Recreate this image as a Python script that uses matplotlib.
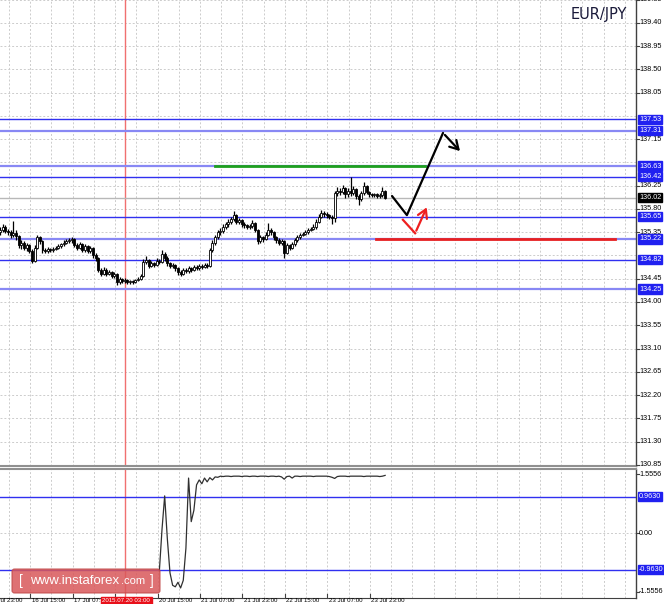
import matplotlib
matplotlib.use("Agg")
import matplotlib.pyplot as plt
import matplotlib.transforms as mtransforms
from matplotlib.patches import FancyBboxPatch
import numpy as np

plt.rcParams["font.family"] = ["Liberation Sans", "DejaVu Sans"]

# ---------------- data ----------------
opens = [135.35,135.40,135.45,135.38,135.36,135.30,135.33,135.28,135.10,135.15,
         135.05,135.10,134.98,134.80,135.05,135.25,135.18,135.00,134.98,135.02,
         135.00,135.03,135.05,135.08,135.12,135.15,135.18,135.20,135.22,135.10,
         135.05,135.12,135.00,135.08,134.98,135.05,134.90,134.85,134.62,134.55,
         134.62,134.55,134.58,134.50,134.55,134.38,134.45,134.40,134.42,134.38,
         134.40,134.38,134.42,134.45,134.50,134.78,134.82,134.70,134.75,134.72,
         134.80,134.78,134.92,134.85,134.75,134.70,134.72,134.65,134.58,134.55,
         134.62,134.60,134.65,134.62,134.68,134.65,134.70,134.68,134.72,134.70,
         135.00,135.15,135.25,135.35,135.38,135.45,135.50,135.55,135.60,135.68,
         135.55,135.58,135.50,135.48,135.45,135.47,135.52,135.40,135.18,135.25,
         135.22,135.30,135.40,135.35,135.25,135.20,135.15,135.18,134.95,135.10,
         135.05,135.12,135.20,135.25,135.30,135.32,135.35,135.40,135.42,135.45,
         135.55,135.65,135.72,135.70,135.68,135.65,135.62,136.10,136.15,136.12,
         136.20,136.08,136.15,136.10,136.18,136.05,136.00,136.10,136.25,136.12,
         136.08,136.06,136.08,136.05,136.07,136.15]
closes = [135.40,135.45,135.38,135.36,135.30,135.33,135.28,135.10,135.15,135.05,
          135.10,134.98,134.80,135.05,135.25,135.18,135.00,134.98,135.02,135.00,
          135.03,135.05,135.08,135.12,135.15,135.18,135.20,135.22,135.10,135.05,
          135.12,135.00,135.08,134.98,135.05,134.90,134.85,134.62,134.55,134.62,
          134.55,134.58,134.50,134.55,134.38,134.45,134.40,134.42,134.38,134.40,
          134.38,134.42,134.45,134.50,134.78,134.82,134.70,134.75,134.72,134.80,
          134.78,134.92,134.85,134.75,134.70,134.72,134.65,134.58,134.55,134.62,
          134.60,134.65,134.62,134.68,134.65,134.70,134.68,134.72,134.70,135.00,
          135.15,135.25,135.35,135.38,135.45,135.50,135.55,135.60,135.68,135.55,
          135.58,135.50,135.48,135.45,135.47,135.52,135.40,135.18,135.25,135.22,
          135.30,135.40,135.35,135.25,135.20,135.15,135.18,134.95,135.10,135.05,
          135.12,135.20,135.25,135.30,135.32,135.35,135.40,135.42,135.45,135.55,
          135.65,135.72,135.70,135.68,135.65,135.62,136.10,136.15,136.12,136.20,
          136.08,136.15,136.10,136.18,136.05,136.00,136.10,136.25,136.12,136.08,
          136.06,136.08,136.05,136.07,136.15,136.02]
highs = [135.45,135.50,135.48,135.42,135.40,135.56,135.40,135.30,135.20,135.18,
         135.14,135.12,135.02,135.10,135.30,135.28,135.20,135.05,135.06,135.05,
         135.07,135.09,135.12,135.15,135.19,135.22,135.24,135.26,135.24,135.14,
         135.16,135.14,135.12,135.10,135.09,135.07,134.94,134.87,134.66,134.67,
         134.65,134.62,134.60,134.58,134.57,134.48,134.47,134.46,134.44,134.43,
         134.42,134.45,134.49,134.55,134.84,134.88,134.84,134.80,134.78,134.85,
         134.84,135.00,134.96,134.88,134.78,134.76,134.74,134.67,134.62,134.66,
         134.65,134.69,134.68,134.72,134.71,134.74,134.73,134.76,134.75,135.05,
         135.20,135.30,135.40,135.44,135.50,135.55,135.60,135.65,135.76,135.70,
         135.62,135.60,135.54,135.51,135.51,135.58,135.54,135.42,135.30,135.28,
         135.35,135.52,135.43,135.37,135.28,135.23,135.22,135.20,135.14,135.13,
         135.16,135.24,135.29,135.34,135.36,135.39,135.44,135.46,135.50,135.60,
         135.70,135.78,135.76,135.74,135.71,135.68,136.15,136.22,136.20,136.26,
         136.23,136.20,136.42,136.24,136.21,136.08,136.15,136.32,136.27,136.15,
         136.11,136.11,136.10,136.10,136.22,136.17]
lows = [135.30,135.36,135.34,135.30,135.24,135.26,135.20,135.05,135.02,135.00,
        134.98,134.94,134.75,134.78,135.02,135.12,134.95,134.94,134.95,134.96,
        134.97,135.00,135.02,135.05,135.09,135.12,135.14,135.15,135.06,135.00,
        135.02,134.96,134.97,134.94,134.95,134.86,134.80,134.58,134.50,134.52,
        134.51,134.52,134.46,134.47,134.33,134.34,134.36,134.36,134.34,134.35,
        134.34,134.36,134.40,134.43,134.48,134.74,134.66,134.67,134.68,134.70,
        134.74,134.76,134.80,134.70,134.65,134.66,134.60,134.52,134.50,134.53,
        134.56,134.57,134.58,134.60,134.61,134.62,134.64,134.65,134.66,134.68,
        134.97,135.10,135.22,135.30,135.34,135.41,135.46,135.51,135.56,135.50,
        135.51,135.46,135.44,135.41,135.42,135.44,135.35,135.12,135.14,135.17,
        135.19,135.27,135.30,135.20,135.15,135.10,135.10,134.85,134.92,135.00,
        135.02,135.09,135.17,135.22,135.27,135.29,135.32,135.37,135.39,135.42,
        135.52,135.62,135.65,135.63,135.60,135.50,135.55,136.05,136.06,136.08,
        136.02,136.04,136.05,136.06,136.00,135.88,135.96,136.06,136.08,136.04,
        136.03,136.03,136.02,136.02,136.04,135.99]

osc_start = 60
osc_values = [-1.00,0.10,0.98,-0.15,-1.05,-1.38,-1.42,-1.30,-1.45,-1.25,
              -0.40,1.45,0.30,0.60,1.27,1.40,1.30,1.45,1.35,1.46,
              1.40,1.48,1.47,1.50,1.49,1.50,1.50,1.49,1.50,1.50,
              1.50,1.49,1.50,1.50,1.49,1.50,1.50,1.49,1.50,1.50,
              1.50,1.49,1.50,1.50,1.49,1.50,1.48,1.42,1.49,1.50,
              1.45,1.50,1.50,1.49,1.50,1.50,1.50,1.50,1.49,1.50,
              1.50,1.50,1.50,1.50,1.49,1.47,1.44,1.49,1.50,1.50,
              1.50,1.49,1.50,1.50,1.50,1.50,1.50,1.49,1.50,1.50,
              1.50,1.50,1.50,1.49,1.50,1.52]

dark_levels = [137.53, 136.42, 135.65, 134.82]
light_levels = [137.31, 136.63, 135.22, 134.25]
current_price = 136.02
osc_levels = [0.9630, -0.9630]
osc_ticks = [1.5556, 0.00, -1.5556]

green_level = 136.63
green_span = [81, 160]
red_level = 135.22
red_span = [141.6, 231.5]

black_path_x = [147.6, 153.2, 166.8, 173.9]
black_path_y = [136.05, 135.68, 137.27, 136.88]
red_path_x = [151.7, 156.3, 161.1]
red_path_y = [135.59, 135.33, 135.88]

red_vline_bar = 47.1

time_labels = ["15 Jul 23:00", "16 Jul 15:00", "17 Jul 07:00",
               "20 Jul 15:00", "21 Jul 07:00", "21 Jul 23:00", "22 Jul 15:00",
               "23 Jul 07:00", "23 Jul 23:00"]
time_label_bars = [-4.7, 11.3, 27.3, 59.3, 75.3, 91.3, 107.3, 123.3, 139.3]
hidden_tick_bar = 43.3
highlight_label = "2015.07.20 03:00"

price_ticks = [round(130.85 + 0.45 * k, 2) for k in range(21)]

# ---------------- layout ----------------
W, H = 664, 604
PXB = 2.656
fig = plt.figure(figsize=(W / 100, H / 100), dpi=100)
fig.patch.set_facecolor("white")

right_px = 636
ax = fig.add_axes([0, (H - 466) / H, right_px / W, 466 / H])
ax2 = fig.add_axes([0, (H - 598) / H, right_px / W, (598 - 469) / H])

xmax = right_px / PXB
ax.set_xlim(0, xmax)
ax.set_ylim(130.828, 139.841)
ax2.set_xlim(0, xmax)
ax2.set_ylim(-1.715, 1.689)

for a in (ax, ax2):
    a.set_xticks([])
    a.set_yticks([])
    a.spines["left"].set_visible(False)
    a.spines["top"].set_visible(False)
    a.spines["right"].set_color("#404040")
    a.spines["right"].set_linewidth(1.0)
    a.set_facecolor("white")
ax.spines["bottom"].set_color("#909090")
ax.spines["bottom"].set_linewidth(1.5)
ax2.spines["top"].set_visible(True)
ax2.spines["top"].set_color("#909090")
ax2.spines["top"].set_linewidth(1.5)
ax2.spines["bottom"].set_color("#404040")

grid_kw = dict(color="#cccccc", lw=0.7, ls=(0, (2, 2)), zorder=0)
grid_bars = np.arange(11.3 - 8, xmax, 8)
for gx in grid_bars:
    ax.axvline(gx, **grid_kw)
    ax2.axvline(gx, **grid_kw)
for p in price_ticks:
    ax.axhline(p, **grid_kw)
ax2.axhline(0.0, **grid_kw)

# red vertical line
ax.axvline(red_vline_bar, color="#f07070", lw=1.0, zorder=1)
ax2.axvline(red_vline_bar, color="#f07070", lw=1.0, zorder=1)

# levels
for lv in dark_levels:
    ax.axhline(lv, color="#3030f0", lw=1.0, zorder=2)
for lv in light_levels:
    ax.axhline(lv, color="#8888f4", lw=1.6, zorder=2)
ax.axhline(current_price, color="#b8b8b8", lw=1.0, zorder=2)
for lv in osc_levels:
    ax2.axhline(lv, color="#3030f0", lw=1.0, zorder=2)

ax.plot(green_span, [green_level, green_level], color="#1ea01e", lw=2.0, zorder=3)
ax.plot(red_span, [red_level, red_level], color="#e82020", lw=2.0, zorder=3)

# candles
n = len(closes)
xs = np.arange(n)
ax.vlines(xs, lows, highs, color="black", lw=0.9, zorder=4)
for i in range(n):
    o, c = opens[i], closes[i]
    bottom = min(o, c)
    h = max(abs(c - o), 0.012)
    fc = "white" if c >= o else "black"
    ax.bar(i, h, bottom=bottom, width=0.75, color=fc, edgecolor="black",
           lw=0.6, zorder=5)

# arrows
ax.plot(black_path_x[:-1], black_path_y[:-1], color="black", lw=1.6, zorder=6,
        solid_capstyle="round")
ax.annotate("", xy=(black_path_x[-1], black_path_y[-1]),
            xytext=(black_path_x[-2], black_path_y[-2]),
            arrowprops=dict(arrowstyle="->,head_length=0.6,head_width=0.35",
                            color="black", lw=1.6), zorder=6)
ax.plot(red_path_x[:-1], red_path_y[:-1], color="#ee2020", lw=1.6, zorder=6)
ax.annotate("", xy=(red_path_x[-1], red_path_y[-1]),
            xytext=(red_path_x[-2], red_path_y[-2]),
            arrowprops=dict(arrowstyle="->,head_length=0.6,head_width=0.35",
                            color="#ee2020", lw=1.6), zorder=6)

# oscillator
osc_x = np.arange(osc_start, osc_start + len(osc_values))
ax2.plot(osc_x, osc_values, color="#303030", lw=0.9, zorder=4)

# ---------------- right side labels ----------------
fs = 5.2
lab_x = 639 / W
tr_main = mtransforms.blended_transform_factory(fig.transFigure, ax.transData)
tr_osc = mtransforms.blended_transform_factory(fig.transFigure, ax2.transData)

box_levels = dark_levels + light_levels
for p in price_ticks:
    if any(abs(p - b) < 0.09 for b in box_levels):
        continue
    fig.text(lab_x, p, f"{p:.2f}", transform=tr_main, fontsize=fs, va="center",
             ha="left", color="black", zorder=3)
    fig.lines.append(plt.Line2D([right_px / W, (right_px + 3) / W], [p, p],
                                transform=tr_main, color="#404040", lw=0.8))

box_kw = dict(boxstyle="square,pad=0.15", fc="#2020f0", ec="#2020f0")
for lv in box_levels:
    fig.text(lab_x, lv, f"{lv:.2f}", transform=tr_main, fontsize=fs, va="center",
             ha="left", color="white", zorder=5, bbox=box_kw)
fig.text(lab_x, current_price, f"{current_price:.2f}", transform=tr_main,
         fontsize=fs, va="center", ha="left", color="white", zorder=5,
         bbox=dict(boxstyle="square,pad=0.15", fc="black", ec="black"))

for v in osc_ticks:
    s = "0.00" if v == 0 else f"{v:.4f}"
    fig.text(lab_x, v, s, transform=tr_osc, fontsize=fs, va="center", ha="left",
             color="black", zorder=3)
    fig.lines.append(plt.Line2D([right_px / W, (right_px + 3) / W], [v, v],
                                transform=tr_osc, color="#404040", lw=0.8))
for v in osc_levels:
    fig.text(lab_x, v, f"{v:.4f}", transform=tr_osc, fontsize=fs, va="center",
             ha="left", color="white", zorder=5, bbox=box_kw)

# ---------------- time axis ----------------
tick_bars = time_label_bars + [hidden_tick_bar]
for bx in tick_bars:
    px = bx * PXB
    fig.lines.append(plt.Line2D([px / W, px / W], [(H - 598) / H, (H - 594) / H],
                                transform=fig.transFigure, color="#404040", lw=0.8))
for lb, bx in zip(time_labels, time_label_bars):
    px = bx * PXB
    fig.text((px + 1.5) / W, 0.5 / H, lb, fontsize=4.4, ha="left", va="bottom",
             color="black", zorder=3)
fig.text(red_vline_bar * PXB / W + 1 / W, 0.5 / H, highlight_label, fontsize=4.4,
         ha="center", va="bottom", color="white", zorder=6,
         bbox=dict(boxstyle="square,pad=0.25", fc="#e8101a", ec="#e8101a"))

# title
fig.text(599 / W, 1 - 14 / H, "EUR/JPY", fontsize=10.5, ha="center", va="center",
         color="#1a1a3a", family="DejaVu Sans")

# watermark
wm = FancyBboxPatch((12 / W, (H - 593) / H), 148 / W, 24 / H,
                    boxstyle="round,pad=0,rounding_size=0.004",
                    transform=fig.transFigure, fc="#d9585a", ec="#c04848",
                    alpha=0.85, lw=0.8, zorder=7)
fig.patches.append(wm)
ty = (H - 581) / H
fig.text(19 / W, ty, "[", fontsize=10, color="white", ha="left", va="center", zorder=8)
fig.text(30 / W, ty, "www.instaforex", fontsize=9.5, color="white",
         ha="left", va="center", zorder=8)
fig.text(121 / W, ty, ".com", fontsize=8, color="white",
         ha="left", va="center", zorder=8)
fig.text(150 / W, ty, "]", fontsize=10, color="white", ha="left", va="center", zorder=8)

fig.savefig("out.png", dpi=100, facecolor="white")
